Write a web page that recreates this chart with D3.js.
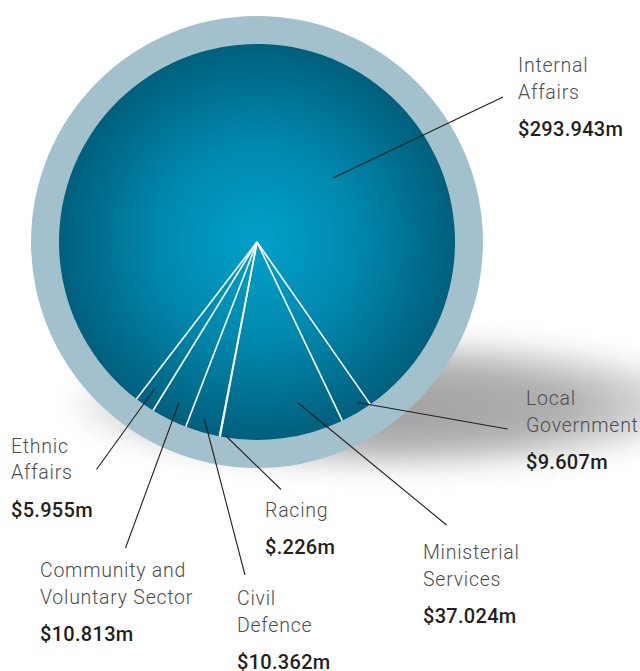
<!DOCTYPE html>
<html>
<head>
<meta charset="utf-8">
<script src="https://cdn.jsdelivr.net/npm/d3@7"></script>
<style>
  html, body { margin: 0; padding: 0; background: #fff; }
  svg { display: block; }
  .name { font-family: Roboto, "Open Sans", sans-serif; font-weight: 300; font-size: 19.5px; fill: #4d4d4f; letter-spacing: 0.75px; }
  .value { font-family: Roboto, "Open Sans", sans-serif; font-weight: 500; font-size: 20px; fill: #231f20; letter-spacing: 0.3px; }
</style>
</head>
<body>
<script>
// Appropriations by output class, $ millions
const categories = ["Local Government", "Ministerial Services", "Racing", "Civil Defence",
                    "Community and Voluntary Sector", "Ethnic Affairs", "Internal Affairs"];
const values = [9.607, 37.024, 0.226, 10.362, 10.813, 5.955, 293.943];
const valueLabels = ["$9.607m", "$37.024m", "$.226m", "$10.362m", "$10.813m", "$5.955m", "$293.943m"];
const nameLines = [["Local", "Government"], ["Ministerial", "Services"], ["Racing"], ["Civil", "Defence"],
                   ["Community and", "Voluntary Sector"], ["Ethnic", "Affairs"], ["Internal", "Affairs"]];

const W = 640, H = 671;
const cx = 257, cy = 242;
const rInner = 198, rOuter = 226;

const svg = d3.select("body").append("svg").attr("width", W).attr("height", H);
const defs = svg.append("defs");

// Soft drop shadow under the disc
const sg = defs.append("radialGradient").attr("id", "shadowGrad")
  .attr("cx", "0.5").attr("cy", "0.5").attr("r", "0.5")
  .attr("fx", "0.52").attr("fy", "0.55");
sg.append("stop").attr("offset", "0").attr("stop-color", "#a2a1a2").attr("stop-opacity", 1);
sg.append("stop").attr("offset", "0.55").attr("stop-color", "#acabac").attr("stop-opacity", 0.95);
sg.append("stop").attr("offset", "0.85").attr("stop-color", "#c4c3c4").attr("stop-opacity", 0.6);
sg.append("stop").attr("offset", "1").attr("stop-color", "#e0dfe0").attr("stop-opacity", 0.15);
defs.append("filter").attr("id", "blur").attr("x", "-30%").attr("y", "-80%").attr("width", "160%").attr("height", "260%")
  .append("feGaussianBlur").attr("stdDeviation", 12);

// Disc fill: bright centre fading to deep teal at the rim
const dg = defs.append("radialGradient").attr("id", "discGrad")
  .attr("gradientUnits", "userSpaceOnUse")
  .attr("cx", 0).attr("cy", 0).attr("r", rInner);
dg.append("stop").attr("offset", "0").attr("stop-color", "#00a1ca");
dg.append("stop").attr("offset", "0.5").attr("stop-color", "#0088ad");
dg.append("stop").attr("offset", "1").attr("stop-color", "#005f7d");

svg.append("ellipse")
  .attr("cx", 390).attr("cy", 404).attr("rx", 325).attr("ry", 68)
  .attr("fill", "url(#shadowGrad)")
  .attr("filter", "url(#blur)");

// Outer ring
svg.append("circle").attr("cx", cx).attr("cy", cy).attr("r", rOuter).attr("fill", "#a3c1cc");

const g = svg.append("g").attr("transform", `translate(${cx},${cy})`);

const startDeg = 145.1;
const pie = d3.pie().sort(null).value(d => d)
  .startAngle(startDeg * Math.PI / 180)
  .endAngle(startDeg * Math.PI / 180 + 2 * Math.PI);
const arcs = pie(values);
const arc = d3.arc().innerRadius(0).outerRadius(rInner);

g.selectAll("path.slice").data(arcs).join("path")
  .attr("class", "slice")
  .attr("d", arc)
  .attr("fill", "url(#discGrad)");

// White dividers between slices
const rad = d3.scaleLinear().domain([0, 1]).range([0, rInner]);
g.selectAll("line.div").data(arcs).join("line")
  .attr("class", "div")
  .attr("x1", 0).attr("y1", 0)
  .attr("x2", d => rad(1) * Math.sin(d.startAngle))
  .attr("y2", d => -rad(1) * Math.cos(d.startAngle))
  .attr("stroke", "#fff").attr("stroke-width", 1.6);

// Leader lines: anchor inside the slice, end point near the label
const leaderStart = [[357.5, 402.5], [297.5, 402.5], [225.5, 435.5], [204.5, 419.5], [179, 402.5], [154.5, 389], [333, 178]];
const leaderEnd   = [[507.5, 429], [446.5, 525], [281, 489.5], [245, 575], [125.5, 548], [96.5, 469.5], [503, 97]];
const labelPos = [[526, 405], [423, 559], [265, 516.5], [237, 605], [40, 577], [11, 452.5], [518, 72]];
const lineGap = 26.7, valueGap = 37.5;

svg.selectAll("line.leader").data(arcs).join("line")
  .attr("class", "leader")
  .attr("x1", (d, i) => leaderStart[i][0]).attr("y1", (d, i) => leaderStart[i][1])
  .attr("x2", (d, i) => leaderEnd[i][0]).attr("y2", (d, i) => leaderEnd[i][1])
  .attr("stroke", "#231f20").attr("stroke-width", 1.1);

const labels = svg.selectAll("g.label").data(arcs).join("g")
  .attr("class", "label")
  .attr("transform", (d, i) => `translate(${labelPos[i][0]},${labelPos[i][1]})`);

labels.each(function(d, i) {
  const sel = d3.select(this);
  const lines = nameLines[i];
  lines.forEach((t, k) => {
    sel.append("text").attr("class", "name").attr("x", 0).attr("y", k * lineGap).text(t);
  });
  sel.append("text").attr("class", "value").attr("x", 0)
    .attr("y", (lines.length - 1) * lineGap + valueGap).text(valueLabels[i]);
});
</script>
</body>
</html>
